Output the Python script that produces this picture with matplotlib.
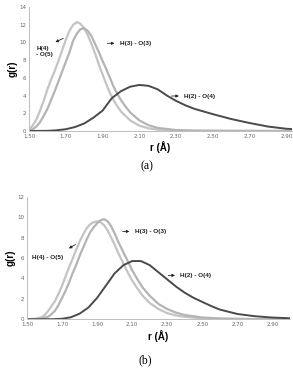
import numpy as np
import matplotlib
matplotlib.use("Agg")
import matplotlib.pyplot as plt

# panel (a)
r_a45 = [1.50, 1.52, 1.54, 1.56, 1.58, 1.60, 1.62, 1.64, 1.66, 1.68, 1.70, 1.72, 1.74, 1.76, 1.78,
         1.80, 1.82, 1.84, 1.86, 1.88, 1.90, 1.92, 1.94, 1.96, 1.98, 2.00, 2.05, 2.10, 2.15, 2.20,
         2.30, 2.50, 2.93]
g_a45 = [0.2, 0.6, 1.3, 2.3, 3.4, 4.7, 5.8, 6.8, 7.9, 9.1, 10.3, 11.3, 12.0, 12.3, 12.1,
         11.6, 10.8, 9.8, 8.7, 7.5, 6.4, 5.3, 4.3, 3.5, 2.8, 2.2, 1.2, 0.6, 0.3, 0.15,
         0.05, 0.01, 0.0]
r_a33 = [1.50, 1.52, 1.54, 1.56, 1.58, 1.60, 1.62, 1.64, 1.66, 1.68, 1.70, 1.72, 1.74, 1.76, 1.78,
         1.80, 1.82, 1.84, 1.86, 1.88, 1.90, 1.92, 1.94, 1.96, 1.98, 2.00, 2.02, 2.05, 2.10, 2.15,
         2.20, 2.30, 2.40, 2.60, 2.93]
g_a33 = [0.05, 0.2, 0.5, 1.0, 1.7, 2.5, 3.5, 4.5, 5.6, 6.7, 7.8, 8.9, 10.2, 11.0, 11.5,
         11.6, 11.3, 10.7, 9.8, 8.9, 7.9, 7.0, 6.0, 5.0, 4.2, 3.5, 2.9, 2.1, 1.2, 0.65,
         0.35, 0.1, 0.04, 0.01, 0.0]
r_a24 = [1.50, 1.60, 1.65, 1.70, 1.75, 1.80, 1.85, 1.90, 1.95, 2.00, 2.05, 2.10, 2.15, 2.20, 2.25,
         2.30, 2.35, 2.40, 2.45, 2.50, 2.60, 2.70, 2.80, 2.90, 2.93]
g_a24 = [0.0, 0.02, 0.08, 0.2, 0.45, 0.85, 1.5, 2.3, 3.7, 4.5, 5.0, 5.2, 5.1, 4.7, 4.0,
         3.4, 2.9, 2.5, 2.2, 1.9, 1.35, 0.9, 0.5, 0.25, 0.22]

# panel (b)
r_b45 = [1.50, 1.55, 1.58, 1.60, 1.62, 1.64, 1.66, 1.68, 1.70, 1.72, 1.74, 1.76, 1.78, 1.80, 1.82,
         1.84, 1.86, 1.88, 1.90, 1.92, 1.94, 1.96, 1.98, 2.00, 2.02, 2.04, 2.06, 2.08, 2.10, 2.13,
         2.16, 2.20, 2.25, 2.30, 2.35, 2.40, 2.50, 2.60, 2.80, 3.00]
g_b45 = [0.0, 0.05, 0.2, 0.4, 0.8, 1.3, 1.8, 2.5, 3.3, 4.2, 5.1, 5.9, 6.8, 7.6, 8.3,
         8.9, 9.3, 9.5, 9.6, 9.5, 9.2, 8.7, 8.0, 7.3, 6.5, 5.8, 5.1, 4.4, 3.8, 3.0,
         2.3, 1.6, 1.0, 0.6, 0.38, 0.24, 0.1, 0.04, 0.01, 0.0]
r_b33 = [1.50, 1.58, 1.62, 1.64, 1.66, 1.68, 1.70, 1.72, 1.74, 1.76, 1.78, 1.80, 1.82, 1.84, 1.86,
         1.88, 1.90, 1.92, 1.94, 1.96, 1.98, 2.00, 2.02, 2.04, 2.06, 2.08, 2.10, 2.13, 2.16, 2.20,
         2.25, 2.30, 2.35, 2.40, 2.50, 2.60, 2.80, 3.00]
g_b33 = [0.0, 0.05, 0.25, 0.5, 0.85, 1.4, 2.1, 2.8, 3.6, 4.5, 5.3, 6.2, 7.0, 7.8, 8.5,
         9.0, 9.4, 9.7, 9.8, 9.6, 9.1, 8.4, 7.6, 6.9, 6.2, 5.5, 4.8, 3.9, 3.1, 2.3,
         1.5, 1.0, 0.65, 0.42, 0.18, 0.08, 0.02, 0.0]
r_b24 = [1.50, 1.65, 1.70, 1.75, 1.80, 1.85, 1.90, 1.95, 2.00, 2.05, 2.10, 2.15, 2.20, 2.25, 2.30,
         2.35, 2.40, 2.45, 2.50, 2.55, 2.60, 2.70, 2.80, 2.90, 3.00]
g_b24 = [0.0, 0.01, 0.05, 0.2, 0.55, 1.15, 2.1, 3.3, 4.5, 5.3, 5.7, 5.7, 5.3, 4.6, 3.9,
         3.2, 2.6, 2.1, 1.7, 1.3, 0.95, 0.52, 0.3, 0.17, 0.1]

xticks = [1.50, 1.70, 1.90, 2.10, 2.30, 2.50, 2.70, 2.90]
light1 = '#c4c4c4'
light2 = '#b4b4b4'
dark = '#4a4a4a'
lab_font = dict(family='Liberation Sans', fontweight='bold', fontsize=4.6, color='#222222')
arrow = dict(arrowstyle='-|>', color='#222222', lw=0.6, mutation_scale=4)

fig = plt.figure(figsize=(2.93, 3.69), dpi=100)


def style(ax, xmax, ymax):
    ax.set_xlim(1.5, xmax)
    ax.set_ylim(0, ymax)
    ax.set_xticks(xticks)
    ax.set_xticklabels(['%.2f' % t for t in xticks])
    ax.set_yticks(np.arange(0, ymax + 1, 2))
    for s in ['top', 'right']:
        ax.spines[s].set_visible(False)
    for s in ['left', 'bottom']:
        ax.spines[s].set_color('#bfbfbf')
        ax.spines[s].set_linewidth(0.7)
    ax.tick_params(length=0, labelsize=4, labelcolor='#666666', pad=2)
    ax.set_xlabel('r (Å)', fontsize=7, fontweight='bold', family='Liberation Sans', labelpad=2)
    ax.set_ylabel('g(r)', fontsize=7, fontweight='bold', family='Liberation Sans', labelpad=1)


ax1 = fig.add_axes([29 / 293, 1 - 131 / 369, 263 / 293, 124 / 369])
ax1.plot(r_a45, g_a45, color=light1, lw=1.6)
ax1.plot(r_a33, g_a33, color=light2, lw=1.6)
ax1.plot(r_a24, g_a24, color=dark, lw=1.4)
style(ax1, 2.93, 14)
ax1.annotate('', xy=(1.63, 9.9), xytext=(1.70, 10.6), arrowprops=arrow)
ax1.text(1.54, 9.6, 'H(4)\n- O(5)', va='top', ha='left', linespacing=1.15, **lab_font)
ax1.annotate('', xy=(1.98, 9.9), xytext=(1.91, 9.9), arrowprops=arrow)
ax1.text(1.995, 9.9, 'H(3) - O(3)', va='center', ha='left', **lab_font)
ax1.annotate('', xy=(2.33, 3.95), xytext=(2.26, 3.95), arrowprops=arrow)
ax1.text(2.345, 3.95, 'H(2) - O(4)', va='center', ha='left', **lab_font)
fig.text(147 / 293, 1 - 166 / 369, '(a)', ha='center', va='center',
         family='Liberation Serif', fontsize=8.5)

ax2 = fig.add_axes([27 / 293, 1 - 319.3 / 369, 263 / 293, 122.6 / 369])
ax2.plot(r_b45, g_b45, color=light1, lw=1.6)
ax2.plot(r_b33, g_b33, color=light2, lw=1.6)
ax2.plot(r_b24, g_b24, color=dark, lw=1.4)
style(ax2, 3.0, 12)
ax2.annotate('', xy=(1.725, 6.8), xytext=(1.79, 7.45), arrowprops=arrow)
ax2.text(1.53, 6.0, 'H(4) - O(5)', va='center', ha='left', **lab_font)
ax2.annotate('', xy=(2.10, 8.6), xytext=(2.03, 8.6), arrowprops=arrow)
ax2.text(2.115, 8.6, 'H(3) - O(3)', va='center', ha='left', **lab_font)
ax2.annotate('', xy=(2.36, 4.3), xytext=(2.29, 4.3), arrowprops=arrow)
ax2.text(2.375, 4.3, 'H(2) - O(4)', va='center', ha='left', **lab_font)
fig.text(145 / 293, 1 - 360 / 369, '(b)', ha='center', va='center',
         family='Liberation Serif', fontsize=8.5)

fig.savefig('out.png', dpi=100, facecolor='white')
